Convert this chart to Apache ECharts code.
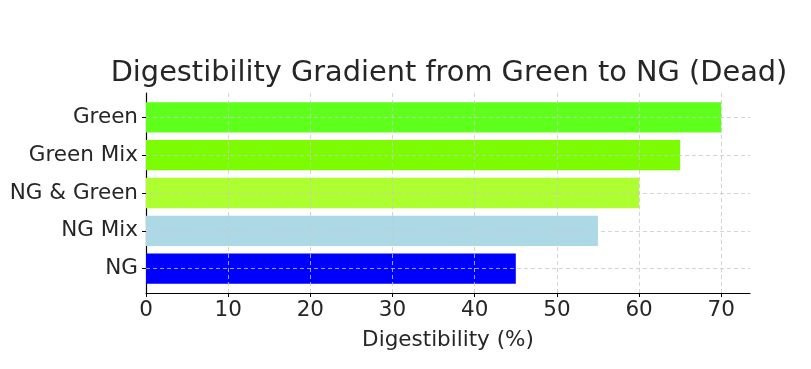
<!DOCTYPE html>
<html>
<head>
<meta charset="utf-8">
<script src="https://cdn.jsdelivr.net/npm/echarts@6/dist/echarts.min.js"></script>
<style>html,body{margin:0;padding:0;background:#fff}#c{width:811px;height:369px}</style>
</head>
<body>
<div id="c"></div>
<script>
const categories = ["NG", "NG Mix", "NG & Green", "Green Mix", "Green"];
const values = [45, 55, 60, 65, 70];
const barColors = ["#0000FF", "#ADD8E6", "#ADFF2F", "#7CFC00", "#5EFF1A"];
const xTicks = [0, 10, 20, 30, 40, 50, 60, 70];
const xMax = 73.5;

const font = "DejaVu Sans";
const chart = echarts.init(document.getElementById('c'), null, {renderer: 'canvas'});
const gridStyle = {type: [4, 3], color: '#c9c9c9', width: 0.8};

chart.setOption({
  animation: false,
  title: {
    text: 'Digestibility Gradient from Green to NG (Dead)',
    left: 444, top: 54, textAlign: 'center',
    textStyle: {fontFamily: font, fontSize: 28.8, fontWeight: 'normal', color: '#262626'}
  },
  grid: [
    {left: 146, right: 61, top: 98.4, bottom: 81.4},
    {left: 146, right: 61, top: 93, bottom: 76}
  ],
  xAxis: [
    {gridIndex: 0, type: 'value', min: 0, max: xMax, show: false, splitLine: {show: false}},
    {gridIndex: 1, type: 'value', min: 0, max: xMax,
      axisLine: {show: true, lineStyle: {color: '#000', width: 1.2}},
      axisTick: {show: true, length: 4, customValues: xTicks, lineStyle: {color: '#000', width: 1}},
      axisLabel: {fontFamily: font, fontSize: 21.5, color: '#262626', margin: 6, customValues: xTicks},
      splitLine: {show: false},
      name: 'Digestibility (%)', nameLocation: 'middle', nameGap: 36,
      nameTextStyle: {fontFamily: font, fontSize: 21.5, color: '#262626'}
    }
  ],
  yAxis: [
    {gridIndex: 0, type: 'category', data: categories,
      axisLine: {show: false},
      axisTick: {show: true, alignWithLabel: true, length: 4, lineStyle: {color: '#000'}},
      axisLabel: {fontFamily: font, fontSize: 21.5, color: '#262626', margin: 8},
      splitLine: {show: false}
    },
    {gridIndex: 1, type: 'value', min: 0, max: 1,
      axisLine: {show: true, lineStyle: {color: '#000', width: 1.2}},
      axisTick: {show: false}, axisLabel: {show: false}, splitLine: {show: false}
    }
  ],
  series: [
    {
      type: 'bar', xAxisIndex: 0, yAxisIndex: 0,
      barWidth: '80%',
      data: values.map((v, i) => ({value: v, itemStyle: {color: barColors[i]}})),
      z: 2,
      markLine: {
        silent: true, symbol: 'none', label: {show: false},
        lineStyle: gridStyle,
        data: categories.map(c => ({yAxis: c}))
      }
    },
    {
      type: 'line', xAxisIndex: 1, yAxisIndex: 1, data: [], z: 3,
      markLine: {
        silent: true, symbol: 'none', label: {show: false},
        lineStyle: gridStyle,
        data: xTicks.filter(t => t > 0).map(t => ({xAxis: t}))
      }
    }
  ]
});
</script>
</body>
</html>
